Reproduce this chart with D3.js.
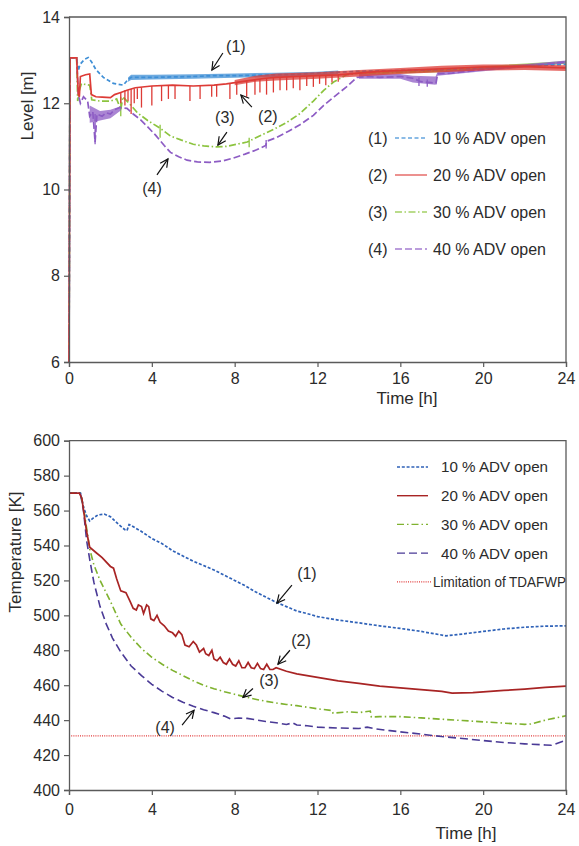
<!DOCTYPE html>
<html>
<head>
<meta charset="utf-8">
<script src="https://cdn.jsdelivr.net/npm/d3@7"></script>
<style>
  body { margin: 0; background: #fff; }
  svg { display: block; }
  text { font-family: "Liberation Sans", Arial, Helvetica, sans-serif; fill: #2b2b2b; }
</style>
</head>
<body>
<svg id="chart" width="579" height="846"></svg>
<script>
// ---------- Steam generator level [m] vs time [h] ----------
const levelTicksX = [0, 4, 8, 12, 16, 20, 24];
const levelTicksY = [6, 8, 10, 12, 14];
const levelNames = ["10 % ADV open", "20 % ADV open", "30 % ADV open", "40 % ADV open"];

const level10 = [[0,6],[0.05,13.05],[0.37,13.05],[0.45,12.75],[0.53,12.9],[0.75,13.02],[0.93,13.06],[1.1,12.95],[1.3,12.78],[1.66,12.6],[2.14,12.46],[2.62,12.42],[2.85,12.55],[3,12.6],[4,12.6],[5,12.61],[6,12.62],[7,12.64],[8,12.64],[9,12.65],[10,12.66],[11,12.67],[12,12.7],[13,12.72],[14,12.74],[16,12.76],[18,12.78],[20,12.82],[22,12.86],[24,12.9]];
const level20 = [[0,6],[0.05,13.05],[0.37,13.05],[0.45,12.2],[0.5,12.15],[0.55,12.62],[0.8,12.66],[1,12.68],[1.08,12.2],[1.3,12.15],[1.6,12.14],[2,12.13],[2.2,12.2],[2.5,12.25],[2.8,12.3],[3.2,12.36],[4,12.4],[5,12.42],[6,12.4],[7,12.42],[7.6,12.45],[8.6,12.52],[9.5,12.58],[10,12.6],[11,12.62],[12,12.64],[13,12.66],[14,12.7],[15,12.74],[16,12.76],[18,12.8],[20,12.84],[22,12.85],[24,12.82]];
const level30 = [[0,6],[0.05,13.05],[0.37,13.05],[0.42,12.05],[0.5,12.3],[0.6,12.45],[1,12.42],[1.1,12.08],[1.5,12.05],[2,12.05],[2.3,12.1],[2.5,11.85],[2.6,12.15],[2.8,12.05],[3,11.95],[3.3,11.78],[3.8,11.6],[4.4,11.42],[4.9,11.24],[5.4,11.15],[6,11.05],[6.5,11.01],[7.1,10.99],[7.6,11],[8.2,11.06],[8.6,11.1],[9.2,11.24],[9.9,11.4],[10.5,11.55],[11.15,11.76],[11.8,12.05],[12.3,12.3],[12.8,12.5],[13.4,12.66],[14,12.7],[16,12.72],[18,12.76],[20,12.8],[22,12.87],[24,12.95]];
const level40 = [[0,6],[0.05,13.05],[0.37,13.05],[0.45,12.2],[0.55,12],[0.7,12.15],[0.9,12.05],[1,11.7],[1.15,11.8],[1.26,11.1],[1.35,11.75],[1.6,11.7],[1.8,11.78],[2,11.75],[2.2,11.85],[2.46,11.9],[2.8,11.88],[3.1,11.75],[3.45,11.62],[3.8,11.45],[4.2,11.25],[4.6,11.02],[4.9,10.86],[5.3,10.76],[5.7,10.68],[6.2,10.64],[6.8,10.63],[7.4,10.66],[7.94,10.73],[8.5,10.82],[9.06,10.92],[9.5,11.02],[9.55,11.12],[10,11.2],[10.6,11.35],[11.15,11.5],[11.8,11.72],[12.3,11.95],[12.8,12.15],[13.4,12.38],[13.9,12.6],[14.5,12.62],[15,12.6],[16,12.62],[16.6,12.58],[17,12.5],[17.5,12.48],[17.72,12.46],[17.8,12.68],[18.5,12.7],[20,12.78],[22,12.86],[23.5,12.93],[24,12.96]];

// noisy envelopes, one list per contiguous stretch: [t, low, high]
const band10 = [[[2.85,12.5,12.6],[3,12.54,12.66],[4,12.55,12.66],[6,12.57,12.67],[8,12.59,12.69],[10,12.61,12.71],[12,12.64,12.73],[13,12.67,12.76]]];
const band20 = [[[8,12.42,12.54],[9,12.5,12.64],[10,12.53,12.69],[12,12.57,12.72],[14,12.62,12.77],[16,12.68,12.82],[18,12.72,12.87],[20,12.76,12.9],[22,12.77,12.9],[24,12.75,12.88]]];
const band30 = [[[14,12.66,12.74],[18,12.72,12.8],[24,12.91,12.98]]];
const band40 = [[[1,11.55,11.95],[1.5,11.6,11.82],[2,11.65,11.85],[2.5,11.83,11.93]],
                [[14,12.57,12.67],[16,12.57,12.68],[16.6,12.48,12.64],[17.7,12.43,12.62],[17.8,12.64,12.73],[20,12.74,12.82],[24,12.92,12.99]]];

// short downward spikes [t, high, low]
const spikes20 = [[2.5,12.25,12.0],[2.7,12.3,11.95],[2.85,12.3,12.05],[3,12.33,11.75],[3.15,12.34,12.0],[3.3,12.35,12.1],[3.5,12.37,11.9],[4,12.4,11.95],[4.47,12.41,12.05],[4.8,12.42,12.1],[5.12,12.42,12.1],[5.84,12.4,12.05],[6.33,12.4,12.1],[6.89,12.42,12.15],[7.13,12.43,12.15],[7.77,12.46,12.1],[8.1,12.48,12.2],[8.58,12.52,12.15],[8.98,12.55,12.2],[9.22,12.56,12.25],[9.54,12.58,12.2],[9.87,12.6,12.25],[10.19,12.6,12.3],[10.51,12.61,12.3],[10.83,12.62,12.35],[11.15,12.62,12.3],[11.48,12.63,12.4],[11.8,12.64,12.38],[12.1,12.64,12.45],[12.4,12.65,12.42],[12.7,12.66,12.48],[13,12.66,12.5]];
const spikes30 = [[4.4,11.5,11.2],[8.7,11.2,10.98],[2.5,12.15,11.7]];
const spikes40 = [[9.52,11.15,10.95],[1.26,11.75,11.05],[16.9,12.6,12.4],[17.3,12.55,12.38]];

// ---------- SG temperature [K] vs time [h] ----------
const tempTicksX = [0, 4, 8, 12, 16, 20, 24];
const tempTicksY = [400, 420, 440, 460, 480, 500, 520, 540, 560, 580, 600];
const tempNames = ["10 % ADV open", "20 % ADV open", "30 % ADV open", "40 % ADV open", "Limitation of TDAFWP"];
const tdafwpLimit = 431;

const temp10 = [[0,570],[0.55,570],[0.7,562],[0.85,557],[1,554],[1.15,555.5],[1.4,557.5],[1.7,558],[2,556.5],[2.4,552],[2.7,549],[2.8,548.5],[2.9,552],[3,551.5],[3.5,548],[4,544],[4.5,541],[5,537],[5.5,534],[6,531],[6.5,528.5],[7,526],[7.5,523],[8,520],[8.5,517],[9,513.5],[9.5,510.5],[10,507.5],[10.5,505],[11,502.5],[11.5,501],[12,499.3],[13,497.3],[14,495.7],[15,494],[16,492.5],[17,490.8],[18.2,488.3],[19,489.3],[20,490.8],[21,492.2],[22,493.2],[23,493.8],[24,494]];
const temp20 = [[0,570],[0.5,570],[0.62,567],[0.85,548],[1,539],[1.3,536],[1.6,533],[2,528],[2.15,527],[2.3,521],[2.5,514],[2.75,513],[2.95,508],[3.1,504],[3.25,503],[3.35,506],[3.5,505],[3.6,501],[3.75,506],[3.85,505],[3.95,498],[4.1,497],[4.25,500],[4.4,496],[4.6,494],[4.8,491],[5,490],[5.15,488],[5.3,491],[5.45,489],[5.6,483],[5.8,482],[6,485],[6.15,483],[6.3,479],[6.5,481],[6.6,478],[6.75,477],[6.9,480],[7,475],[7.15,474],[7.3,476],[7.45,473],[7.6,472],[7.75,475],[7.9,472],[8.05,471],[8.2,474],[8.35,470],[8.5,470],[8.65,473],[8.8,470],[8.95,469.5],[9.1,472.5],[9.25,469.5],[9.4,469],[9.55,472],[9.7,469],[9.85,469],[10,470],[10.5,468],[11,466.5],[12,464.5],[13,462.5],[14,461],[15,459.5],[16,458.5],[17,457.5],[18,456.5],[18.5,455.5],[19.5,455.8],[20,456.2],[21,457],[22,457.8],[23,458.8],[24,459.5]];
const temp30 = [[0,570],[0.55,570],[0.7,562],[0.85,550],[1,538],[1.2,529],[1.5,520],[2,508],[2.5,495],[3,487.5],[3.5,481],[4,476],[4.5,472],[5,468.5],[5.5,465.5],[6,462.5],[6.5,460],[7,458],[7.5,456.3],[8,454.8],[8.5,453.3],[9,452],[9.5,450.8],[10,449.8],[10.5,449],[11,448.3],[12,446.5],[12.7,445.5],[12.75,444],[13.5,444.8],[14,444.3],[14.55,445.2],[14.6,441.8],[15,442],[16,442],[17,441.3],[18,440.5],[19,439.8],[20,439],[21,438.3],[22,437.6],[22.3,437.8],[23,440],[24,442.5]];
const temp40 = [[0,570],[0.55,570],[0.7,560],[0.85,543],[1,532],[1.2,519],[1.5,505],[1.8,495],[2.1,487],[2.5,479],[3,471],[3.5,465.5],[4,460.5],[4.5,456.5],[5,453],[5.5,450.3],[6,448],[6.5,446],[7,444.3],[7.5,442.3],[7.8,440.8],[8.2,441.2],[8.6,441],[9,440.2],[9.5,439.2],[10,438.5],[10.5,437.5],[10.8,438.5],[11,437.2],[11.5,436.8],[12,436],[13,435.5],[14,435.2],[14.4,436],[14.8,435],[15.5,434],[16,433.3],[17,432],[18,430.6],[19,429.5],[20,428.3],[21,427.2],[22,426.4],[23,425.8],[23.3,425.6],[24,428.5]];

// callout tips in data units: [label, t, value]
const levelNotes = [["(1)", 6.9, 12.77], ["(2)", 8.3, 12.19], ["(3)", 7.19, 11.03], ["(4)", 4.78, 10.71]];
const tempNotes = [["(1)", 10.04, 507], ["(2)", 10.09, 472], ["(3)", 8.4, 453], ["(4)", 6.04, 445.7]];

// ---------- drawing ----------
const svg = d3.select("#chart");
const FRAME = "#5a5a5a";

svg.append("defs").append("marker")
  .attr("id", "arrow").attr("markerUnits", "userSpaceOnUse")
  .attr("markerWidth", 12).attr("markerHeight", 12)
  .attr("refX", 9).attr("refY", 5).attr("orient", "auto")
  .append("path").attr("d", "M1,1 L9,5 L1,9")
  .attr("fill", "none").attr("stroke", "#111").attr("stroke-width", 1.2);

function frame(g, x, y, xTicks, yTicks, padX) {
  const [x0, x1] = x.range();
  const [y0, y1] = y.range();
  g.append("path")
    .attr("d", `M${x0},${y1}H${x1}V${y0}`)
    .attr("fill", "none").attr("stroke", FRAME).attr("stroke-width", 1.3);
  const ax = g.append("g").attr("transform", `translate(0,${y0})`)
    .call(d3.axisBottom(x).tickValues(xTicks).tickSize(5).tickPadding(padX).tickFormat(d3.format("d")));
  const ay = g.append("g").attr("transform", `translate(${x0},0)`)
    .call(d3.axisLeft(y).tickValues(yTicks).tickSize(5).tickPadding(4).tickFormat(d3.format("d")));
  [ax, ay].forEach(a => {
    a.select(".domain").attr("stroke", FRAME).attr("stroke-width", 1.3);
    a.selectAll(".tick line").attr("stroke", FRAME).attr("stroke-width", 1.2);
    a.selectAll(".tick text").attr("font-size", 16).attr("fill", "#2b2b2b")
      .style("font-family", '"Liberation Sans", Arial, sans-serif');
  });
}

function callouts(g, x, y, notes, layout) {
  notes.forEach((n, i) => {
    const px = x(n[1]), py = y(n[2]);
    const L = layout[i];
    g.append("line")
      .attr("x1", px + L.tail[0]).attr("y1", py + L.tail[1])
      .attr("x2", px).attr("y2", py)
      .attr("stroke", "#111").attr("stroke-width", 1.2)
      .attr("marker-end", "url(#arrow)");
    g.append("text")
      .attr("x", px + L.label[0]).attr("y", py + L.label[1])
      .attr("dy", "0.35em").attr("text-anchor", "middle")
      .attr("font-size", 16).text(n[0]);
  });
}

// ===== Level panel =====
const xL = d3.scaleLinear().domain([0, 24]).range([69, 566]);
const yL = d3.scaleLinear().domain([6, 14]).range([362, 17]);
const gL = svg.append("g");

const levelStyle = [
  { data: level10, bands: band10, spikes: [], color: "#3f8fd6", dash: "4,2.5" },
  { data: level20, bands: band20, spikes: spikes20, color: "#dd3b36", dash: null },
  { data: level30, bands: band30, spikes: spikes30, color: "#8cc43f", dash: "7,2.5,1.5,2.5" },
  { data: level40, bands: band40, spikes: spikes40, color: "#8d5cc4", dash: "7,3" }
];
const lineL = d3.line().x(d => xL(d[0])).y(d => yL(d[1]));
const areaL = d3.area().x(d => xL(d[0])).y0(d => yL(d[1])).y1(d => yL(d[2]));

// draw order: green, purple, blue, red on top
[2, 3, 0, 1].forEach(i => {
  const s = levelStyle[i];
  gL.selectAll(null).data(s.bands).enter().append("path").attr("d", areaL)
    .attr("fill", s.color).attr("fill-opacity", 0.75);
  gL.append("path").datum(s.data).attr("d", lineL)
    .attr("fill", "none").attr("stroke", s.color).attr("stroke-width", 1.7)
    .attr("stroke-dasharray", s.dash);
  gL.selectAll(null).data(s.spikes).enter().append("line")
    .attr("x1", d => xL(d[0])).attr("x2", d => xL(d[0]))
    .attr("y1", d => yL(d[1])).attr("y2", d => yL(d[2]))
    .attr("stroke", s.color).attr("stroke-width", 1.3);
});

frame(gL, xL, yL, levelTicksX, levelTicksY, 6);

gL.append("text").attr("transform", "translate(33,106) rotate(-90)")
  .attr("text-anchor", "middle").attr("font-size", 17).text("Level [m]");
gL.append("text").attr("x", 407).attr("y", 404)
  .attr("text-anchor", "middle").attr("font-size", 17).text("Time [h]");

// legend
levelNames.forEach((name, i) => {
  const cy = 138 + i * 37;
  const s = levelStyle[i];
  gL.append("text").attr("x", 368).attr("y", cy).attr("dy", "0.35em")
    .attr("font-size", 16).text(`(${i + 1})`);
  gL.append("line").attr("x1", 395).attr("x2", 427).attr("y1", cy).attr("y2", cy)
    .attr("stroke", s.color).attr("stroke-width", 1.4).attr("stroke-opacity", 0.8)
    .attr("stroke-dasharray", s.dash);
  gL.append("text").attr("x", 433).attr("y", cy).attr("dy", "0.35em")
    .attr("font-size", 16).text(name);
});

callouts(gL, xL, yL, levelNotes, [
  { tail: [11, -17], label: [24, -24] },
  { tail: [11, 12], label: [27, 21] },
  { tail: [9, -13], label: [7, -28] },
  { tail: [-11, 16], label: [-16, 30] }
]);

// ===== Temperature panel =====
const xT = d3.scaleLinear().domain([0, 24]).range([69, 566]);
const yT = d3.scaleLinear().domain([400, 600]).range([790, 440.7]);
const gT = svg.append("g");

const tempStyle = [
  { data: temp10, color: "#2f62b8", dash: "3,1.8", w: 1.7 },
  { data: temp20, color: "#a82424", dash: null, w: 1.7 },
  { data: temp30, color: "#7fb22f", dash: "7,3,1.5,3", w: 1.6 },
  { data: temp40, color: "#4a3a96", dash: "8,4", w: 1.6 }
];
const lineT = d3.line().x(d => xT(d[0])).y(d => yT(d[1]));

gT.append("line")
  .attr("x1", xT(0)).attr("x2", xT(24))
  .attr("y1", yT(tdafwpLimit)).attr("y2", yT(tdafwpLimit))
  .attr("stroke", "#e23a3a").attr("stroke-width", 1.4).attr("stroke-dasharray", "1,1.2");

[3, 2, 0, 1].forEach(i => {
  const s = tempStyle[i];
  gT.append("path").datum(s.data).attr("d", lineT)
    .attr("fill", "none").attr("stroke", s.color).attr("stroke-width", s.w)
    .attr("stroke-dasharray", s.dash);
});

frame(gT, xT, yT, tempTicksX, tempTicksY, 9);

gT.append("text").attr("transform", "translate(21,552) rotate(-90)")
  .attr("text-anchor", "middle").attr("font-size", 17).text("Temperature [K]");
gT.append("text").attr("x", 466).attr("y", 839)
  .attr("text-anchor", "middle").attr("font-size", 17).text("Time [h]");

// legend
tempNames.forEach((name, i) => {
  const cy = 467 + i * 28.7;
  const last = i === 4;
  const s = last ? { color: "#e23a3a", dash: "1,1.2" } : tempStyle[i];
  gT.append("line").attr("x1", 397).attr("x2", last ? 432 : 428)
    .attr("y1", cy).attr("y2", cy)
    .attr("stroke", s.color).attr("stroke-width", last ? 1.2 : 1.4)
    .attr("stroke-dasharray", s.dash);
  gT.append("text").attr("x", last ? 433 : 441).attr("y", cy).attr("dy", "0.35em")
    .attr("font-size", last ? 14 : 15.5)
    .attr("textLength", last ? 133 : 107).attr("lengthAdjust", "spacingAndGlyphs")
    .text(name);
});

callouts(gT, xT, yT, tempNotes, [
  { tail: [15, -18], label: [30, -30] },
  { tail: [12, -14], label: [23, -24] },
  { tail: [10, -9], label: [26, -17] },
  { tail: [-12, 15], label: [-29, 17] }
]);
</script>
</body>
</html>
